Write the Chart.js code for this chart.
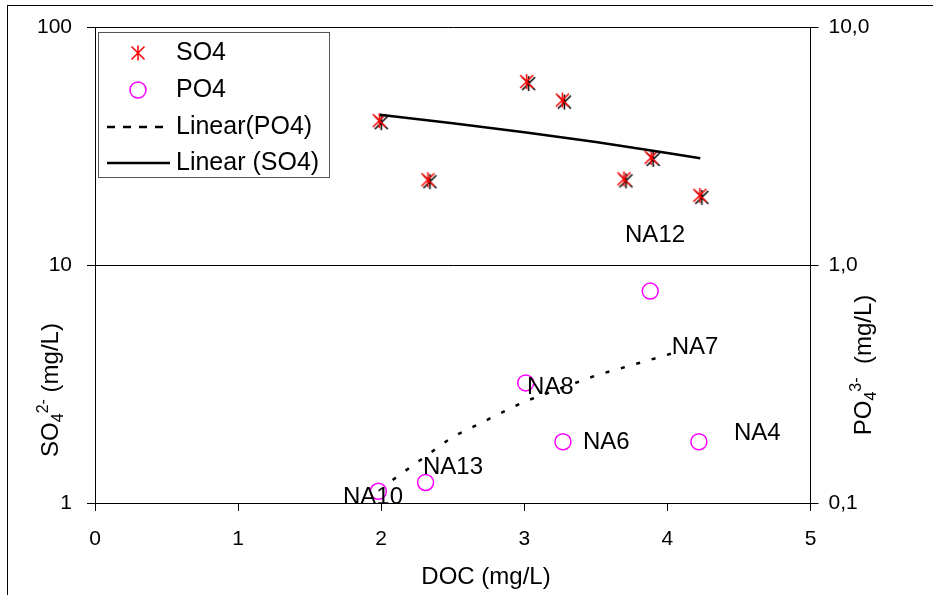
<!DOCTYPE html>
<html>
<head>
<meta charset="utf-8">
<script src="https://cdn.jsdelivr.net/npm/chart.js@4.4.1/dist/chart.umd.min.js"></script>
<style>
  body { margin: 0; background: #fff; }
  canvas { display: block; }
</style>
</head>
<body>
<canvas id="chart" width="933" height="595"></canvas>
<script>
// DOC (mg/L) against SO4 (left axis) and PO4 (right axis)
const docSO4 = [1.99, 2.33, 3.02, 3.27, 3.70, 3.89, 4.23];
const so4 = [40.4, 22.8, 59.0, 49.3, 23.0, 28.3, 19.6];
const docPO4 = [1.98, 2.31, 3.01, 3.27, 3.88, 4.22];
const po4 = [0.112, 0.122, 0.320, 0.181, 0.779, 0.181];

// trend lines
const trendSO4x = [1.99, 2.5, 3.0, 3.5, 4.0, 4.23];
const trendSO4y = [43.0, 39.6, 36.3, 33.0, 29.7, 28.2];
const trendPO4x = [2.08, 2.5, 3.0, 3.5, 4.04];
const trendPO4y = [0.125, 0.190, 0.267, 0.344, 0.427];

// sample labels (placed on the PO4 axis)
const sampleNames = ["NA10", "NA13", "NA8", "NA6", "NA7", "NA4", "NA12"];
const sampleX = [1.733, 2.292, 3.019, 3.410, 4.030, 4.465, 3.704];
const sampleY = [0.106, 0.1415, 0.3075, 0.180, 0.452, 0.1966, 1.33];

const leftTicks = [1, 10, 100];
const rightTicks = [0.1, 1, 10];
const FONT = "'Liberation Sans', Arial, sans-serif";

Chart.defaults.font.family = FONT;
Chart.defaults.font.size = 21;
Chart.defaults.color = "#000";

function drawStar(g, x, y, r, color) {
  g.strokeStyle = color;
  g.lineWidth = 1.5;
  g.beginPath();
  g.moveTo(x - r, y - r); g.lineTo(x + r, y + r);
  g.moveTo(x - r, y + r); g.lineTo(x + r, y - r);
  g.moveTo(x, y - r * 1.15); g.lineTo(x, y + r * 1.15);
  g.stroke();
}

const starImg = document.createElement("canvas");
starImg.width = 22; starImg.height = 22;
(function () {
  const g = starImg.getContext("2d");
  drawStar(g, 12.5, 12.5, 6.5, "#000");
  drawStar(g, 10.5, 10.5, 6.5, "#f00");
})();

const pts = (xs, ys) => xs.map((x, i) => ({ x: x, y: ys[i] }));

function richText(ctx, parts, x, y) {
  // parts: [text, size, dy]
  let w = 0;
  parts.forEach((p) => { ctx.font = p[1] + "px " + FONT; w += ctx.measureText(p[0]).width; });
  let cx = x - w / 2;
  parts.forEach((p) => {
    ctx.font = p[1] + "px " + FONT;
    ctx.fillText(p[0], cx, y + p[2]);
    cx += ctx.measureText(p[0]).width;
  });
}

const decor = {
  id: "decor",
  afterDraw(chart) {
    const ctx = chart.ctx;
    const sx = chart.scales.x, s2 = chart.scales.y2;
    ctx.save();
    // outer frame
    ctx.strokeStyle = "#000";
    ctx.lineWidth = 1;
    ctx.strokeRect(7.5, 5.5, 1000, 1000);

    // sample labels
    ctx.fillStyle = "#000";
    ctx.font = "24px " + FONT;
    ctx.textAlign = "left";
    ctx.textBaseline = "middle";
    sampleNames.forEach((n, i) => {
      ctx.fillText(n, sx.getPixelForValue(sampleX[i]), s2.getPixelForValue(sampleY[i]));
    });

    // axis titles
    ctx.textBaseline = "alphabetic";
    ctx.font = "24px " + FONT;
    ctx.textAlign = "center";
    ctx.fillText("DOC (mg/L)", 486, 584);
    ctx.textAlign = "left";
    ctx.save();
    ctx.translate(58, 390);
    ctx.rotate(-Math.PI / 2);
    richText(ctx, [["SO", 24, 0], ["4", 16, 5], ["2-", 16, -10], [" (mg/L)", 24, 0]], 0, 0);
    ctx.restore();
    ctx.save();
    ctx.translate(871, 365);
    ctx.rotate(-Math.PI / 2);
    richText(ctx, [["PO", 24, 0], ["4", 16, 5], ["3-", 16, -10], ["  (mg/L)", 24, 0]], 0, 0);
    ctx.restore();

    // legend
    ctx.strokeStyle = "#555";
    ctx.lineWidth = 1;
    ctx.strokeRect(98.5, 32.5, 231, 145);
    const rows = [53, 90, 127, 163];
    drawStar(ctx, 138, rows[0], 6.5, "#f00");
    ctx.strokeStyle = "#f0f";
    ctx.lineWidth = 1.5;
    ctx.beginPath();
    ctx.arc(138, rows[1], 8, 0, Math.PI * 2);
    ctx.stroke();
    ctx.strokeStyle = "#000";
    ctx.lineWidth = 2.5;
    ctx.setLineDash([8, 8]);
    ctx.beginPath();
    ctx.moveTo(107, rows[2]); ctx.lineTo(166, rows[2]);
    ctx.stroke();
    ctx.setLineDash([]);
    ctx.beginPath();
    ctx.moveTo(107, rows[3]); ctx.lineTo(170, rows[3]);
    ctx.stroke();
    ctx.fillStyle = "#000";
    ctx.font = "25px " + FONT;
    ctx.textBaseline = "middle";
    ctx.fillText("SO4", 176, rows[0]);
    ctx.fillText("PO4", 176, rows[1]);
    ctx.fillText("Linear(PO4)", 176, rows[2]);
    ctx.fillText("Linear (SO4)", 176, rows[3]);
    ctx.restore();
  },
};

new Chart(document.getElementById("chart"), {
  type: "scatter",
  data: {
    datasets: [
      {
        label: "Linear (SO4)",
        data: pts(trendSO4x, trendSO4y),
        yAxisID: "y",
        showLine: true,
        borderColor: "#000",
        borderWidth: 2.5,
        pointRadius: 0,
      },
      {
        label: "Linear(PO4)",
        data: pts(trendPO4x, trendPO4y),
        yAxisID: "y2",
        showLine: true,
        borderColor: "#000",
        borderWidth: 2.5,
        borderDash: [4, 12],
        pointRadius: 0,
      },
      {
        label: "SO4",
        data: pts(docSO4, so4),
        yAxisID: "y",
        pointStyle: starImg,
      },
      {
        label: "PO4",
        data: pts(docPO4, po4),
        yAxisID: "y2",
        pointStyle: "circle",
        pointRadius: 8,
        borderColor: "#f0f",
        borderWidth: 1.5,
        backgroundColor: "rgba(0,0,0,0)",
      },
    ],
  },
  options: {
    responsive: false,
    animation: false,
    devicePixelRatio: 1,
    layout: { padding: { top: 26, left: 0, right: 0, bottom: 0 } },
    plugins: { legend: { display: false }, tooltip: { enabled: false } },
    scales: {
      x: {
        type: "linear",
        position: "bottom",
        min: 0,
        max: 5,
        ticks: { stepSize: 1, padding: 16, color: "#000" },
        grid: { drawOnChartArea: false, drawTicks: true, tickLength: 8, color: "#000" },
        border: { display: true, color: "#000" },
        afterFit: (s) => { s.height = 92; },
      },
      y: {
        type: "logarithmic",
        position: "left",
        min: 1,
        max: 100,
        afterBuildTicks: (s) => { s.ticks = leftTicks.map((v) => ({ value: v })); },
        ticks: { padding: 15, color: "#000", callback: (v) => String(v) },
        grid: { color: "#000", tickLength: 8 },
        border: { display: true, color: "#000" },
        afterFit: (s) => { s.width = 95; },
      },
      y2: {
        type: "logarithmic",
        position: "right",
        min: 0.1,
        max: 10,
        afterBuildTicks: (s) => { s.ticks = rightTicks.map((v) => ({ value: v })); },
        ticks: { padding: 10, color: "#000", callback: (v) => v.toFixed(1).replace(".", ",") },
        grid: { drawOnChartArea: false, color: "#000", tickLength: 8 },
        border: { display: true, color: "#000" },
        afterFit: (s) => { s.width = 122.5; },
      },
    },
  },
  plugins: [decor],
});
</script>
</body>
</html>
